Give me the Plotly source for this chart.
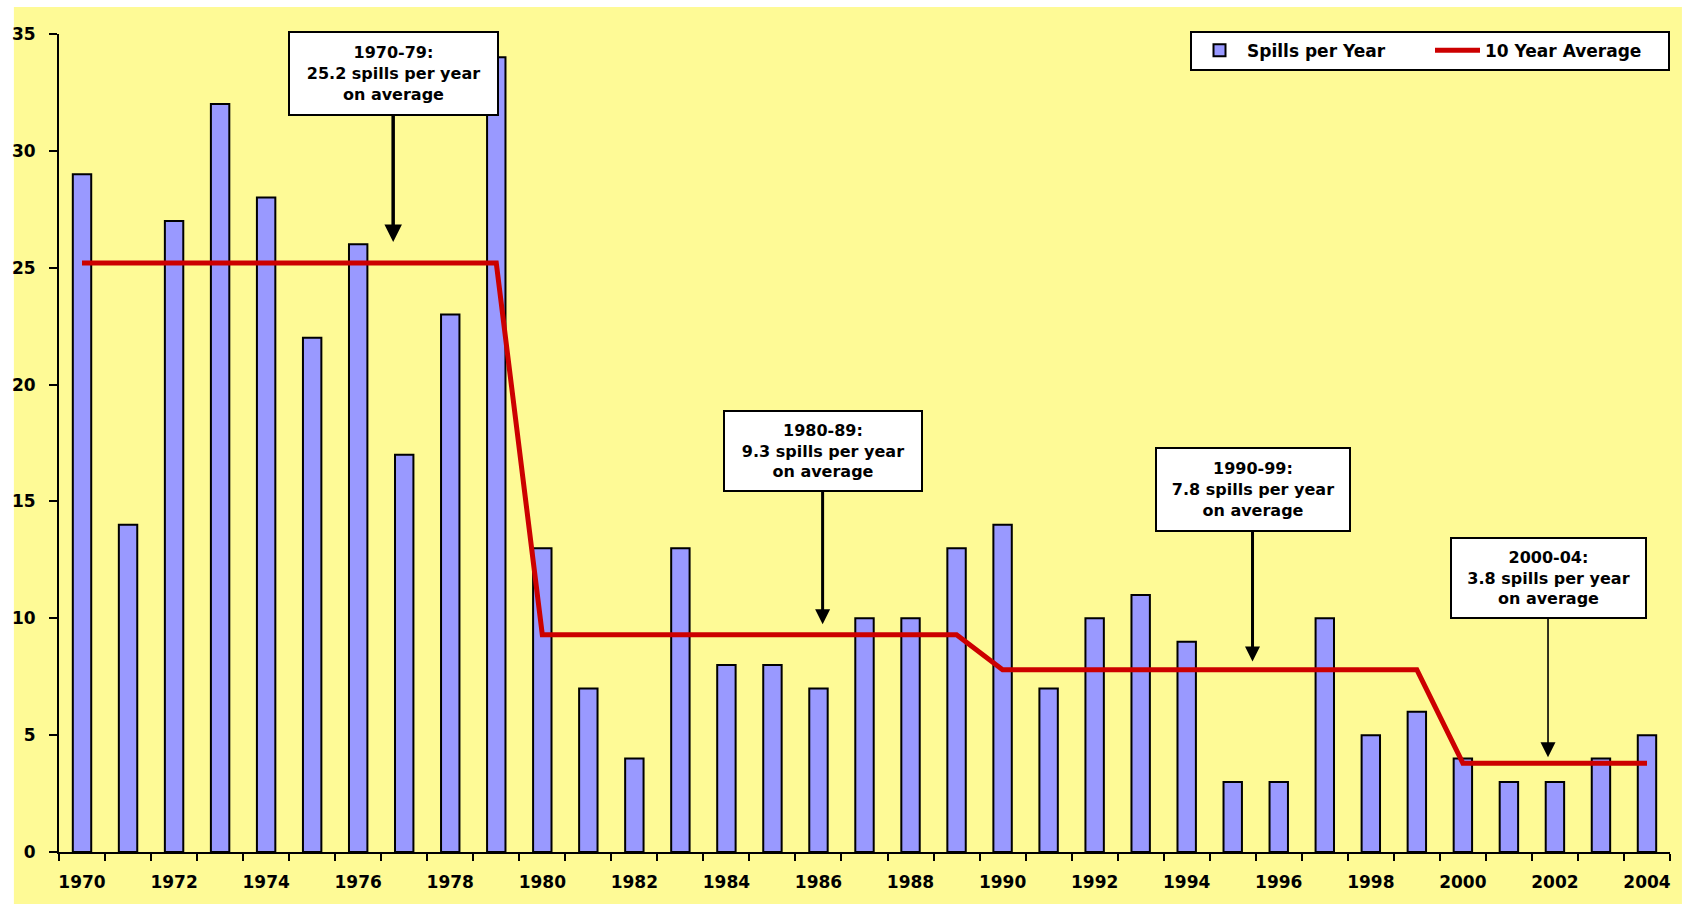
import plotly.graph_objects as go

years = list(range(1970, 2005))
spills = [29, 14, 27, 32, 28, 22, 26, 17, 23, 34,
          13, 7, 4, 13, 8, 8, 7, 10, 10, 13,
          14, 7, 10, 11, 9, 3, 3, 10, 5, 6,
          4, 3, 3, 4, 5]
avg10 = [25.2] * 10 + [9.3] * 10 + [7.8] * 10 + [3.8] * 5
tick_years = list(range(1970, 2005, 2))
tick_labels = [str(y) for y in tick_years]

ann_texts = [
    "1970-79:<br>25.2 spills per year<br>on average",
    "1980-89:<br>9.3 spills per year<br>on average",
    "1990-99:<br>7.8 spills per year<br>on average",
    "2000-04:<br>3.8 spills per year<br>on average",
]

YELLOW = "#FEFA96"
FONT = "DejaVu Sans"

fig = go.Figure()
fig.add_trace(go.Bar(
    x=years, y=spills, name="Spills per Year", width=0.4,
    marker=dict(color="#9999FF", line=dict(color="black", width=2)),
))
fig.add_trace(go.Scatter(
    x=years, y=avg10, name="10 Year Average", mode="lines",
    line=dict(color="#CC0000", width=5),
))

# annotation placements: (arrow tip x, tip y, box center y, width, height, arrow width)
ann_pos = [
    (1976.76, 26.1, 33.31, 203, 77, 3.5),
    (1986.09, 9.75, 17.16, 192, 74, 3),
    (1995.43, 8.15, 15.51, 188, 77, 3),
    (2001.85, 4.05, 11.74, 189, 74, 1.6),
]
for text, (x, y, ay, w, h, aw) in zip(ann_texts, ann_pos):
    fig.add_annotation(
        x=x, y=y, xref="x", yref="y", ax=x, ay=ay, axref="x", ayref="y",
        text=text, showarrow=True, arrowhead=2, arrowsize=3.0 / aw if aw < 2 else 1,
        arrowwidth=aw, arrowcolor="black",
        bgcolor="white", bordercolor="black", borderwidth=2, borderpad=2,
        width=w, height=h, align="center",
        font=dict(family=FONT, size=16, color="black", weight="bold"),
    )

fig.add_shape(type="rect", xref="paper", yref="paper",
              x0=-0.028, x1=1.0074, y0=-0.065, y1=1.033,
              fillcolor=YELLOW, line=dict(width=0), layer="below")

fig.update_layout(
    width=1694, height=904,
    margin=dict(l=57, r=24, t=34, b=50),
    paper_bgcolor="white", plot_bgcolor=YELLOW,
    showlegend=True,
    legend=dict(orientation="h", x=1.0, y=1.004, xanchor="right", yanchor="top",
                bgcolor="white", bordercolor="black", borderwidth=2,
                font=dict(family=FONT, size=17, color="black", weight="bold"),
                entrywidth=178, entrywidthmode="pixels",
                itemwidth=45, traceorder="normal"),
    font=dict(family=FONT, color="black"),
)
fig.update_xaxes(
    range=[1969.5, 2004.5], tickmode="array", tickvals=tick_years, ticktext=tick_labels,
    ticks="", showgrid=False, zeroline=False,
    showline=True, linecolor="black", linewidth=2,
    tickfont=dict(family=FONT, size=17, color="black", weight="bold"),
    ticklabelstandoff=14,
    minor=dict(ticks="outside", tick0=1969.5, dtick=1, ticklen=7, tickwidth=2,
               tickcolor="black", showgrid=False),
)
fig.update_yaxes(
    range=[0, 35], dtick=5, ticks="outside", ticklen=8, tickwidth=2, tickcolor="black",
    showgrid=False, zeroline=False, showline=True, linecolor="black", linewidth=2,
    tickfont=dict(family=FONT, size=17, color="black", weight="bold"),
    ticklabelstandoff=10,
)

fig.write_html("out.html")
